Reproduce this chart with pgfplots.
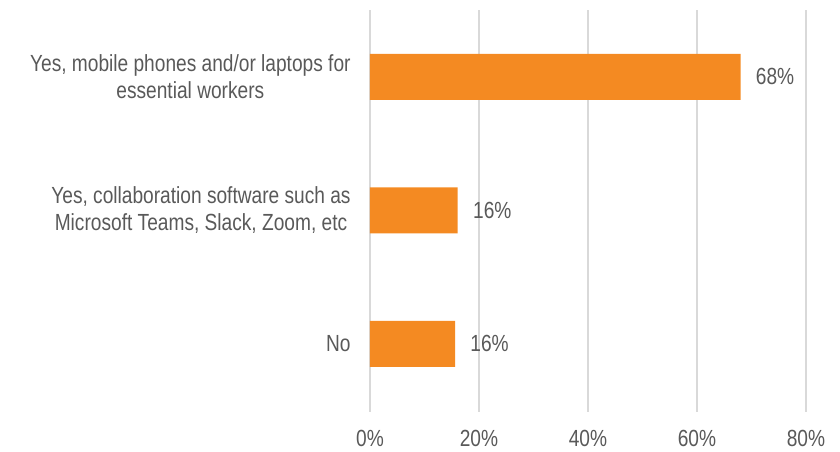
\documentclass[border=0pt]{standalone}
\usepackage{fontspec}
\setmainfont{Liberation Sans}[FakeStretch=0.82]
\usepackage{pgfplots}
\pgfplotsset{compat=1.18}
\definecolor{barorange}{HTML}{F48A22}
\definecolor{txtgray}{HTML}{595959}
\definecolor{gridgray}{HTML}{D9D9D9}
\begin{document}
\begin{tikzpicture}[x=0.75pt,y=0.75pt]
\useasboundingbox (-370,-40) rectangle (470,412);
\begin{axis}[
  at={(0,0)}, anchor=south west,
  scale only axis,
  width=327pt, height=301.5pt,
  xbar,
  bar width=34.5pt,
  xmin=0, xmax=80,
  ymin=-0.51, ymax=2.5,
  xtick={0,20,40,60,80},
  ytick={0,1,2},
  yticklabels={No,
    {Yes, collaboration software such as\\Microsoft Teams, Slack, Zoom, etc},
    {Yes, mobile phones and/or laptops for\\essential workers}},
  axis line style={draw=none},
  major tick length=0pt,
  xmajorgrids,
  grid style={gridgray, line width=1.3pt},
  font=\fontsize{17.5}{20.5}\selectfont,
  /pgf/number format/assume math mode=true,
  xticklabel={\pgfmathprintnumber{\tick}\%},
  xticklabel style={text=txtgray, yshift=-10pt},
  yticklabel style={text=txtgray, align=center, xshift=-11pt},
  nodes near coords={\pgfmathprintnumber[fixed,precision=0]{\pgfplotspointmeta}\%},
  nodes near coords style={text=txtgray, xshift=8pt},
]
\addplot[fill=barorange, draw=none] coordinates {(15.6,0) (16.1,1) (68,2)};
\end{axis}
\end{tikzpicture}
\end{document}
